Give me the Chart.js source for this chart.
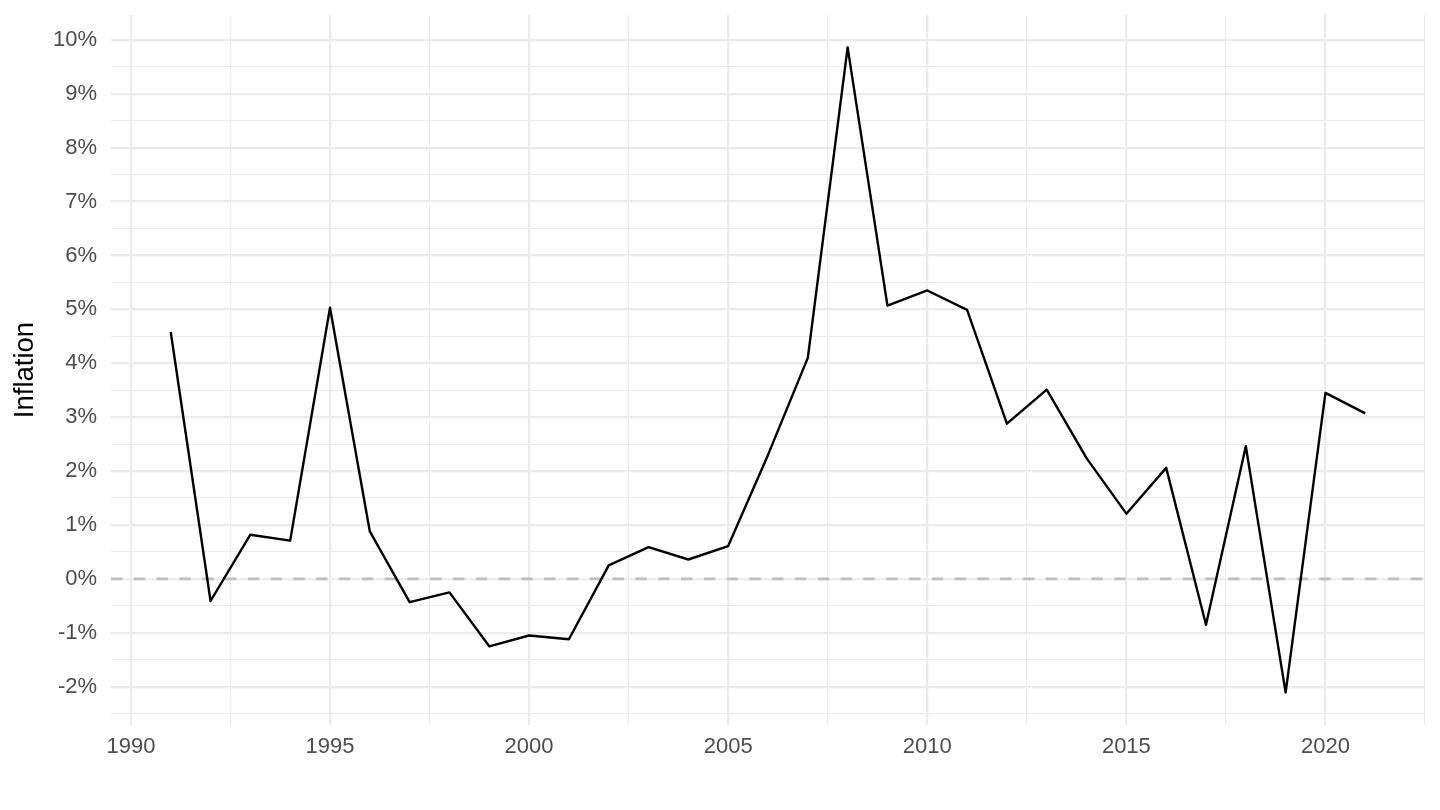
<!DOCTYPE html>
<html>
<head>
<meta charset="utf-8">
<script src="https://cdn.jsdelivr.net/npm/chart.js@4.4.1/dist/chart.umd.min.js"></script>
<style>
  html, body { margin: 0; padding: 0; background: #ffffff; }
  #wrap { width: 1440px; height: 810px; }
</style>
</head>
<body>
<div id="wrap"><canvas id="c" width="1440" height="810"></canvas></div>
<script>
// ---- data ----
const years = [1991, 1992, 1993, 1994, 1995, 1996, 1997, 1998, 1999, 2000,
               2001, 2002, 2003, 2004, 2005, 2006, 2007, 2008, 2009, 2010,
               2011, 2012, 2013, 2014, 2015, 2016, 2017, 2018, 2019, 2020, 2021];
const inflation = [4.58, -0.41, 0.82, 0.71, 5.03, 0.88, -0.43, -0.25, -1.25, -1.05,
                   -1.12, 0.25, 0.59, 0.36, 0.61, 2.30, 4.10, 9.86, 5.07, 5.35,
                   4.99, 2.88, 3.51, 2.24, 1.21, 2.06, -0.85, 2.46, -2.11, 3.45, 3.07];
const xTicks = [1987.5, 1990, 1992.5, 1995, 1997.5, 2000, 2002.5, 2005, 2007.5, 2010,
                2012.5, 2015, 2017.5, 2020, 2022.5];
const xMajor = [1990, 1995, 2000, 2005, 2010, 2015, 2020];
const yTicks = [-2.5, -2, -1.5, -1, -0.5, 0, 0.5, 1, 1.5, 2, 2.5, 3, 3.5, 4, 4.5,
                5, 5.5, 6, 6.5, 7, 7.5, 8, 8.5, 9, 9.5, 10];
const yMajor = [-2, -1, 0, 1, 2, 3, 4, 5, 6, 7, 8, 9, 10];
const refLine = [0];
const xLimits = [1989.5, 2022.5];
const yLimits = [-2.71, 10.46];

const GRID = '#ebebeb';
const FONT = '"Liberation Sans", Arial, Helvetica, sans-serif';

const seriesData = years.map((y, i) => ({ x: y, y: inflation[i] }));
const refData = [{ x: xLimits[0], y: refLine[0] }, { x: xLimits[1], y: refLine[0] }];

new Chart(document.getElementById('c'), {
  type: 'line',
  data: {
    datasets: [
      {
        data: seriesData,
        borderColor: '#000000',
        borderWidth: 2.4,
        pointRadius: 0,
        tension: 0,
        borderJoinStyle: 'round',
        borderCapStyle: 'butt',
        fill: false
      },
      {
        data: refData,
        borderColor: '#bebebe',
        borderWidth: 2.6,
        borderDash: [11.4, 11.4],
        pointRadius: 0,
        tension: 0,
        fill: false
      }
    ]
  },
  options: {
    responsive: false,
    animation: false,
    devicePixelRatio: 1,
    layout: { padding: { top: 15, right: 15, left: 0, bottom: 0 } },
    plugins: { legend: { display: false }, tooltip: { enabled: false } },
    scales: {
      x: {
        type: 'linear',
        min: xLimits[0],
        max: xLimits[1],
        afterBuildTicks: (s) => { s.ticks = xTicks.filter(v => v >= xLimits[0] && v <= xLimits[1]).map(v => ({ value: v })); },
        afterFit: (s) => { s.height = 85; s.paddingLeft = 0; s.paddingRight = 0; },
        border: { display: false },
        grid: {
          drawTicks: false,
          color: GRID,
          lineWidth: (ctx) => (ctx.tick && xMajor.includes(ctx.tick.value)) ? 2.2 : 1.1
        },
        ticks: {
          autoSkip: false,
          maxRotation: 0,
          padding: 8.5,
          color: '#4d4d4d',
          font: { family: FONT, size: 22 },
          callback: (v) => xMajor.includes(v) ? String(v) : ''
        }
      },
      y: {
        type: 'linear',
        min: yLimits[0],
        max: yLimits[1],
        afterBuildTicks: (s) => { s.ticks = yTicks.map(v => ({ value: v })); },
        afterFit: (s) => { s.width = 111; s.paddingTop = 0; s.paddingBottom = 0; },
        border: { display: false },
        grid: {
          drawTicks: false,
          color: GRID,
          lineWidth: (ctx) => (ctx.tick && yMajor.includes(ctx.tick.value)) ? 2.2 : 1.1
        },
        ticks: {
          autoSkip: false,
          padding: 14,
          color: '#4d4d4d',
          font: { family: FONT, size: 22 },
          callback: (v) => yMajor.includes(v) ? (v + '%') : ''
        },
        title: {
          display: true,
          text: 'Inflation',
          color: '#000000',
          font: { family: FONT, size: 27.5, lineHeight: 1.2 },
          padding: { top: 8.5, bottom: 0 }
        }
      }
    }
  }
});
</script>
</body>
</html>
